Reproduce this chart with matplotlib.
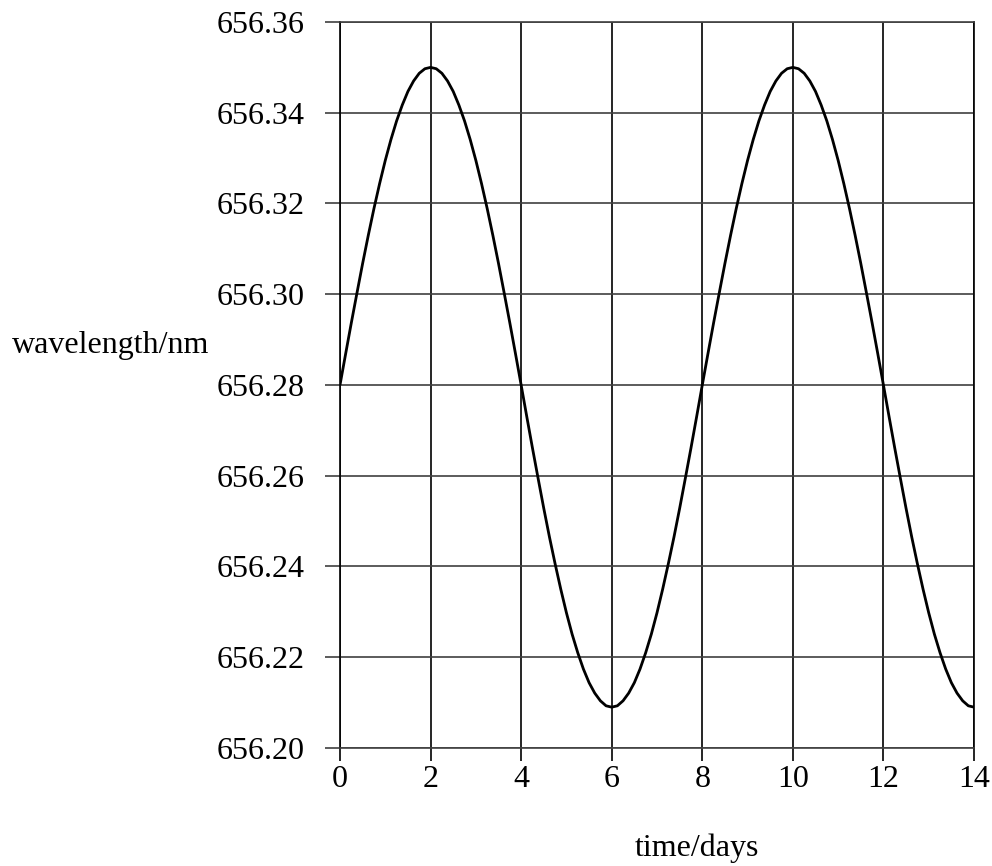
import matplotlib
matplotlib.use("Agg")
import matplotlib.pyplot as plt

time_days = [0.0, 0.125, 0.25, 0.375, 0.5, 0.625, 0.75, 0.875, 1.0, 1.125, 1.25, 1.375, 1.5, 1.625, 1.75, 1.875,
             2.0, 2.125, 2.25, 2.375, 2.5, 2.625, 2.75, 2.875, 3.0, 3.125, 3.25, 3.375, 3.5, 3.625, 3.75, 3.875,
             4.0, 4.125, 4.25, 4.375, 4.5, 4.625, 4.75, 4.875, 5.0, 5.125, 5.25, 5.375, 5.5, 5.625, 5.75, 5.875,
             6.0, 6.125, 6.25, 6.375, 6.5, 6.625, 6.75, 6.875, 7.0, 7.125, 7.25, 7.375, 7.5, 7.625, 7.75, 7.875,
             8.0, 8.125, 8.25, 8.375, 8.5, 8.625, 8.75, 8.875, 9.0, 9.125, 9.25, 9.375, 9.5, 9.625, 9.75, 9.875,
             10.0, 10.125, 10.25, 10.375, 10.5, 10.625, 10.75, 10.875, 11.0, 11.125, 11.25, 11.375, 11.5, 11.625, 11.75, 11.875,
             12.0, 12.125, 12.25, 12.375, 12.5, 12.625, 12.75, 12.875, 13.0, 13.125, 13.25, 13.375, 13.5, 13.625, 13.75, 13.875,
             14.0]
wavelength = [656.2800, 656.2869, 656.2937, 656.3003, 656.3068, 656.3130, 656.3189, 656.3244,
              656.3295, 656.3341, 656.3382, 656.3417, 656.3447, 656.3470, 656.3487, 656.3497,
              656.3500, 656.3497, 656.3487, 656.3470, 656.3447, 656.3417, 656.3382, 656.3341,
              656.3295, 656.3244, 656.3189, 656.3130, 656.3068, 656.3003, 656.2937, 656.2869,
              656.2800, 656.2730, 656.2661, 656.2594, 656.2528, 656.2465, 656.2406, 656.2350,
              656.2298, 656.2251, 656.2210, 656.2174, 656.2144, 656.2121, 656.2104, 656.2093,
              656.2090, 656.2093, 656.2104, 656.2121, 656.2144, 656.2174, 656.2210, 656.2251,
              656.2298, 656.2350, 656.2406, 656.2465, 656.2528, 656.2594, 656.2661, 656.2730,
              656.2800, 656.2869, 656.2937, 656.3003, 656.3068, 656.3130, 656.3189, 656.3244,
              656.3295, 656.3341, 656.3382, 656.3417, 656.3447, 656.3470, 656.3487, 656.3497,
              656.3500, 656.3497, 656.3487, 656.3470, 656.3447, 656.3417, 656.3382, 656.3341,
              656.3295, 656.3244, 656.3189, 656.3130, 656.3068, 656.3003, 656.2937, 656.2869,
              656.2800, 656.2730, 656.2661, 656.2594, 656.2528, 656.2465, 656.2406, 656.2350,
              656.2298, 656.2251, 656.2210, 656.2174, 656.2144, 656.2121, 656.2104, 656.2093,
              656.2090]

x_ticks = [0, 2, 4, 6, 8, 10, 12, 14]
y_ticks = [656.20, 656.22, 656.24, 656.26, 656.28, 656.30, 656.32, 656.34, 656.36]
y_tick_labels = ["656.20", "656.22", "656.24", "656.26", "656.28",
                 "656.30", "656.32", "656.34", "656.36"]

plt.rcParams['font.family'] = ['Liberation Serif', 'DejaVu Serif']

W, H = 992, 866
fig = plt.figure(figsize=(W / 100, H / 100), dpi=100)
ax = fig.add_axes([340 / W, (H - 748) / H, (974 - 340) / W, (748 - 22) / H])

hcol = '#404040'
vcol = '#000000'

ax.plot(time_days, wavelength, color='black', lw=2.0, zorder=5,
        solid_joinstyle='round', solid_capstyle='butt')

ax.set_xlim(0, 14)
ax.set_ylim(656.20, 656.36)
ax.set_xticks(x_ticks)
ax.set_xticklabels([str(t) for t in x_ticks])
ax.set_yticks(y_ticks)
ax.set_yticklabels(y_tick_labels)

ax.tick_params(axis='y', direction='out', length=10.5, width=1.2, color=hcol,
               labelsize=23, pad=15)
ax.tick_params(axis='x', direction='out', length=9, width=1.2, color=vcol,
               labelsize=23, pad=3)

ax.grid(True, axis='y', color=hcol, lw=1.2)
ax.grid(True, axis='x', color=vcol, lw=1.2)
ax.set_axisbelow(True)

for side in ['left', 'right']:
    ax.spines[side].set_color(vcol)
    ax.spines[side].set_linewidth(1.2)
for side in ['top', 'bottom']:
    ax.spines[side].set_color(hcol)
    ax.spines[side].set_linewidth(1.2)

fig.text(12 / W, (H - 345) / H, 'wavelength/nm', fontsize=23, ha='left', va='center')
fig.text(697 / W, (H - 848) / H, 'time/days', fontsize=23, ha='center', va='center')

fig.savefig('out.png', dpi=100, facecolor='white')
